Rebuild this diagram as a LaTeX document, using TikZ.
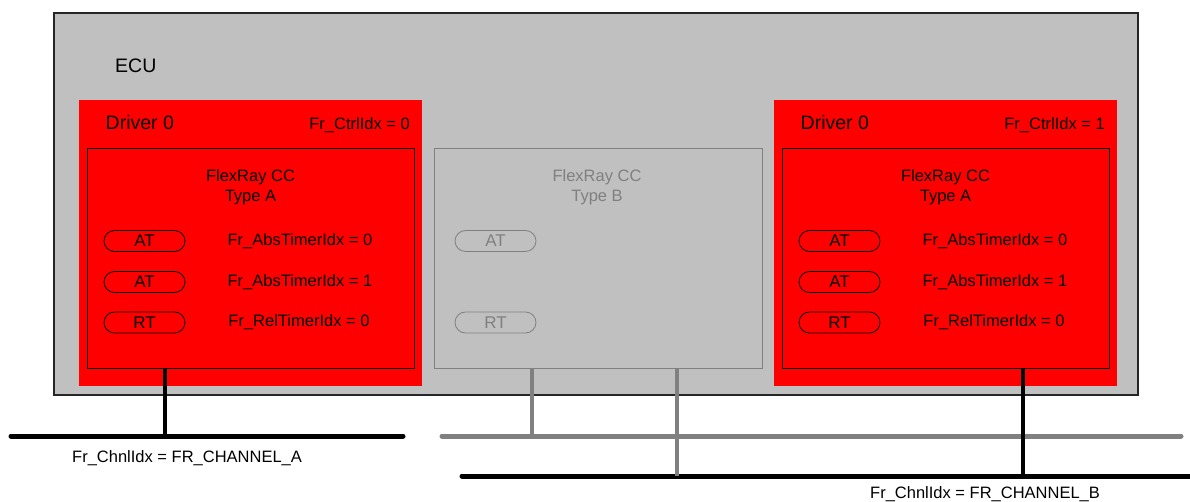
\documentclass[tikz,border=0pt]{standalone}
\usepackage{fontspec}
\setmainfont{Liberation Sans}
\usetikzlibrary{shapes.misc}
\definecolor{ecugray}{HTML}{C0C0C0}
\definecolor{dimgray}{HTML}{808080}
\definecolor{drvred}{HTML}{FF0000}
\begin{document}
\begin{tikzpicture}[x=1pt,y=-1pt,
  box/.style={rectangle,anchor=north west,inner sep=0pt,outer sep=0pt},
  ecubox/.style={box,fill=ecugray,draw=black!85,line width=1.1pt,minimum width=1084pt,minimum height=382pt},
  drvbox/.style={box,fill=drvred,minimum width=343pt,minimum height=286pt},
  ccbox/.style={box,draw=black,line width=0.9pt,minimum width=327pt,minimum height=220pt},
  ccboxB/.style={box,draw=dimgray,line width=0.9pt,minimum width=328pt,minimum height=220pt},
  pill/.style={rounded rectangle,draw=black,line width=0.8pt,minimum width=81pt,minimum height=21pt,inner sep=0pt,font=\fontsize{17}{19}\selectfont},
  pillB/.style={pill,draw=dimgray,text=dimgray},
  lbl/.style={inner sep=0pt,font=\fontsize{16.5}{20}\selectfont},
  big/.style={inner sep=0pt,font=\fontsize{19.5}{23}\selectfont,anchor=base west},
  bus/.style={line width=5pt,line cap=round},
  conn/.style={line width=3.2pt},
  connB/.style={line width=3.2pt,draw=dimgray}
]
\useasboundingbox (0,0) rectangle (1190,502);

% ECU
\node[ecubox] (ecu) at (54,13) {};
\node[big] (ecut) at (115,73) {ECU};

% Left driver
\node[drvbox] (drvA) at (79,100) {};
\node[big] (drvAt) at (105.5,130) {Driver 0};
\node[lbl,anchor=base east] (ctrlA) at (410,130) {Fr\_CtrlIdx = 0};
\node[ccbox] (ccA) at (87,148) {};
\node[lbl,align=center,anchor=north] (ccAt) at (250.5,169.5) {FlexRay CC\\Type A};
\node[pill] (a1) at (144.5,241) {AT};
\node[pill] (a2) at (144.5,282) {AT};
\node[pill] (a3) at (144.5,322.5) {RT};
\node[lbl] (a1t) at (300,241) {Fr\_AbsTimerIdx = 0};
\node[lbl] (a2t) at (300,282) {Fr\_AbsTimerIdx = 1};
\node[lbl] (a3t) at (299,322.5) {Fr\_RelTimerIdx = 0};

% Middle CC type B
\node[ccboxB] (ccB) at (434,148) {};
\node[lbl,align=center,anchor=north,text=dimgray] (ccBt) at (597,169.5) {FlexRay CC\\Type B};
\node[pillB] (b1) at (495.5,241) {AT};
\node[pillB] (b3) at (495.5,322.5) {RT};

% Right driver
\node[drvbox] (drvC) at (774,100) {};
\node[big] (drvCt) at (800.5,130) {Driver 0};
\node[lbl,anchor=base east] (ctrlC) at (1105,130) {Fr\_CtrlIdx = 1};
\node[ccbox] (ccC) at (782,148) {};
\node[lbl,align=center,anchor=north] (ccCt) at (945.5,169.5) {FlexRay CC\\Type A};
\node[pill] (c1) at (839.5,241) {AT};
\node[pill] (c2) at (839.5,282) {AT};
\node[pill] (c3) at (839.5,322.5) {RT};
\node[lbl] (c1t) at (995,241) {Fr\_AbsTimerIdx = 0};
\node[lbl] (c2t) at (995,282) {Fr\_AbsTimerIdx = 1};
\node[lbl] (c3t) at (994,322.5) {Fr\_RelTimerIdx = 0};

% Buses
\coordinate (busAl) at (11,436);
\coordinate (busAr) at (403,436);
\coordinate (busGl) at (442,436);
\coordinate (busGr) at (1181,436);
\coordinate (busBl) at (462,476);
\coordinate (busBr) at (1200,476);
\draw[bus] (busAl) -- (busAr);
\draw[bus,draw=dimgray] (busGl) -- (busGr);
\draw[bus] (busBl) -- (busBr);

% Taps
\coordinate (tapA) at (165,436);
\coordinate (tapG1) at (532,436);
\coordinate (tapG2) at (677,476);
\coordinate (tapC) at (1023,476);
\draw[conn] (ccA.south -| tapA) -- (tapA);
\draw[connB] (ccB.south -| tapG1) -- (tapG1);
\draw[connB] (ccB.south -| tapG2) -- (tapG2);
\draw[conn] (ccC.south -| tapC) -- (tapC);

% Channel labels
\node[lbl,anchor=base west] (chA) at (72,462) {Fr\_ChnlIdx = FR\_CHANNEL\_A};
\node[lbl,anchor=base west] (chB) at (870,498) {Fr\_ChnlIdx = FR\_CHANNEL\_B};
\end{tikzpicture}
\end{document}
